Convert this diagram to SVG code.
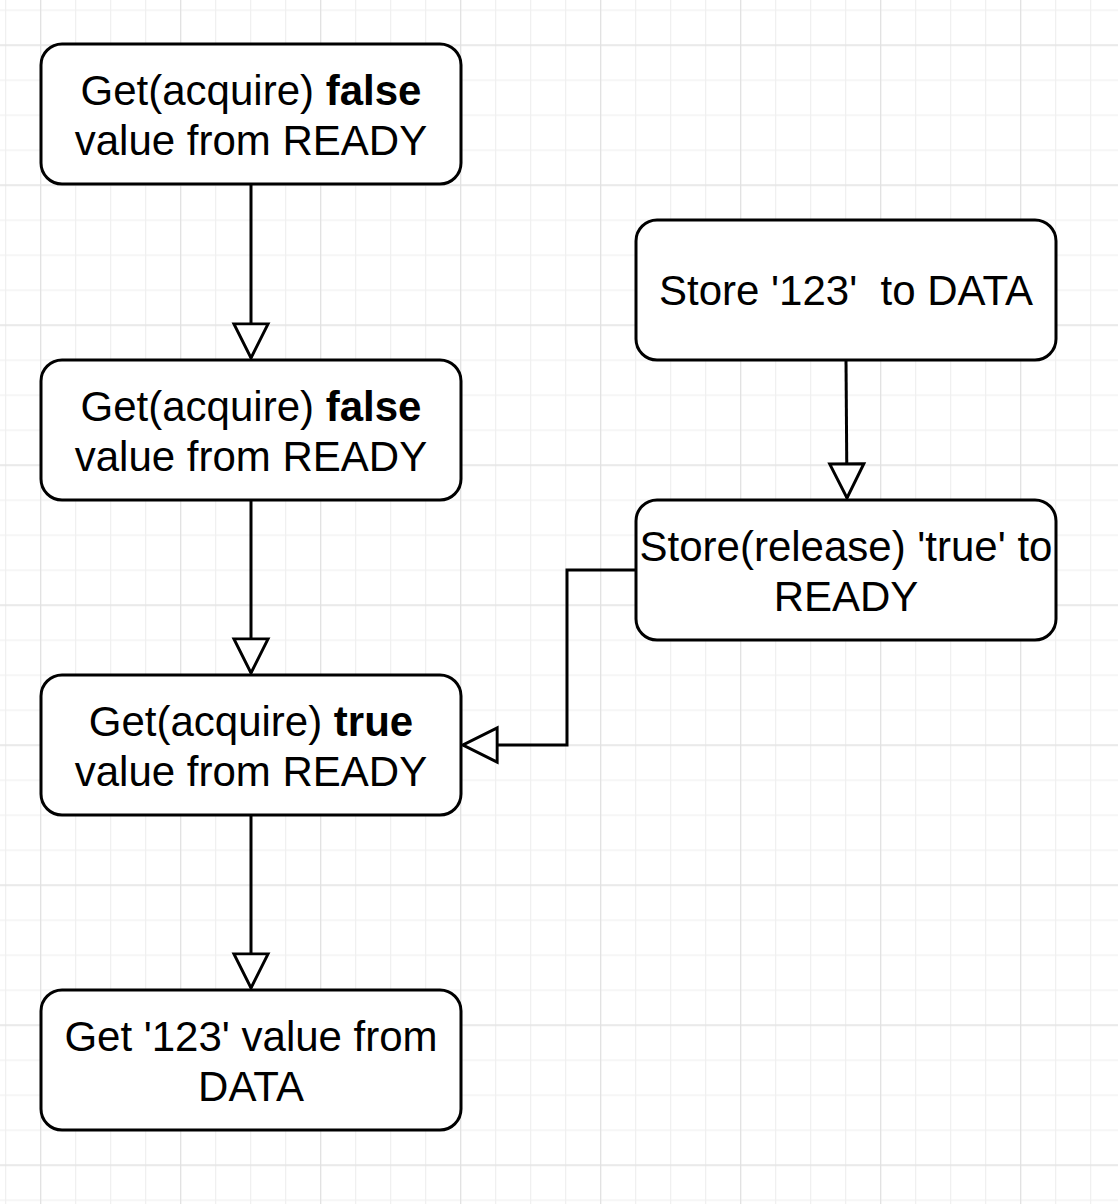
<svg xmlns="http://www.w3.org/2000/svg" width="1118" height="1204" viewBox="0 0 1118 1204">
  <style>
    .node rect { fill: #ffffff; stroke: #000000; stroke-width: 3; }
    .node text { font-family: "Liberation Sans", Arial, Helvetica, sans-serif; font-size: 42px; fill: #000000; text-anchor: middle; white-space: pre; }
    .b { font-weight: bold; }
    .edge { fill: none; stroke: #000000; stroke-width: 3; marker-end: url(#tri); }
  </style>
  <defs>
    <pattern id="minor" patternUnits="userSpaceOnUse" x="40" y="9.5" width="35" height="35">
      <path d="M0.5 0 V35 M0 0.5 H35" stroke="#f0f0f0" stroke-width="1.5" fill="none"/>
    </pattern>
    <pattern id="major" patternUnits="userSpaceOnUse" x="40" y="44.5" width="140" height="140">
      <path d="M0.5 0 V140 M0 0.5 H140" stroke="#e2e2e2" stroke-width="1.5" fill="none"/>
    </pattern>
    <marker id="tri" markerUnits="userSpaceOnUse" markerWidth="40" markerHeight="40" viewBox="-3 -3 41 41" refX="35" refY="17.5" orient="auto">
      <path d="M0 0 L35 17.5 L0 35 Z" fill="#ffffff" stroke="#000000" stroke-width="3"/>
    </marker>
  </defs>
  <rect width="1118" height="1204" fill="#ffffff"/>
  <rect width="1118" height="1204" fill="url(#minor)"/>
  <rect width="1118" height="1204" fill="url(#major)"/>

  <g id="connectors">
    <path class="edge" d="M251 184 V358"/>
    <path class="edge" d="M251 500 V673"/>
    <path class="edge" d="M251 815 V988"/>
    <path class="edge" d="M846 360 L847 498"/>
    <path class="edge" d="M636 570 H567 V745 H463"/>
  </g>

  <g id="n1" class="node">
    <rect x="41" y="44" width="420" height="140" rx="21" ry="21"/>
    <text x="251" y="105">Get(acquire) <tspan class="b">false</tspan></text>
    <text x="251" y="155">value from READY</text>
  </g>
  <g id="n2" class="node">
    <rect x="41" y="360" width="420" height="140" rx="21" ry="21"/>
    <text x="251" y="421">Get(acquire) <tspan class="b">false</tspan></text>
    <text x="251" y="471">value from READY</text>
  </g>
  <g id="n3" class="node">
    <rect x="41" y="675" width="420" height="140" rx="21" ry="21"/>
    <text x="251" y="736">Get(acquire) <tspan class="b">true</tspan></text>
    <text x="251" y="786">value from READY</text>
  </g>
  <g id="n4" class="node">
    <rect x="41" y="990" width="420" height="140" rx="21" ry="21"/>
    <text x="251" y="1051">Get '123' value from</text>
    <text x="251" y="1101">DATA</text>
  </g>
  <g id="n5" class="node">
    <rect x="636" y="220" width="420" height="140" rx="21" ry="21"/>
    <text x="846" y="305">Store '123'  to DATA</text>
  </g>
  <g id="n6" class="node">
    <rect x="636" y="500" width="420" height="140" rx="21" ry="21"/>
    <text x="846" y="561">Store(release) 'true' to</text>
    <text x="846" y="611">READY</text>
  </g>
</svg>
